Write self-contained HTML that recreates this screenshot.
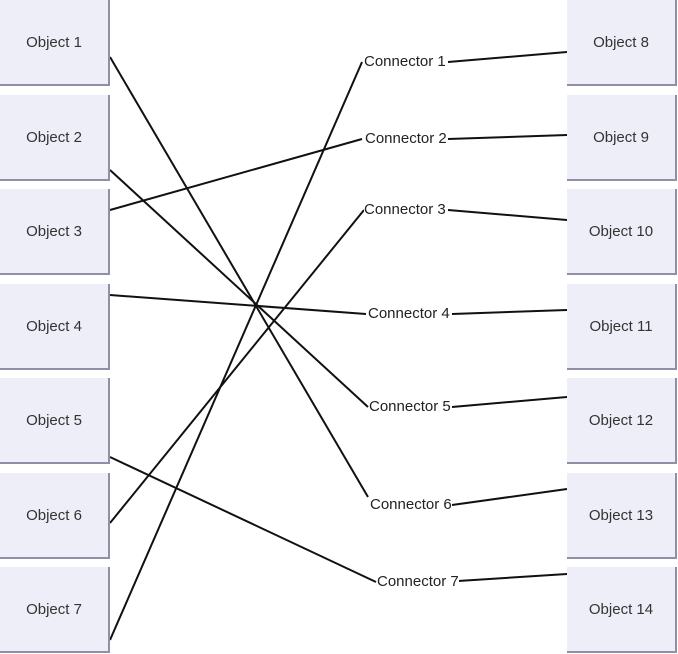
<!DOCTYPE html>
<html><head><style>
body{margin:0;width:678px;height:654px;background:#fff;position:relative;overflow:hidden;font-family:"Liberation Sans",Arial,sans-serif;}
.b{position:absolute;width:108px;height:84px;background:#eeeef8;border-right:2px solid #8f8fa8;border-bottom:2px solid #8f8fa8;display:flex;align-items:center;justify-content:center;font-size:15px;color:#333;}
.c{position:absolute;font-size:15px;color:#222;background:#fff;line-height:16px;}
svg{position:absolute;left:0;top:0}
</style></head><body>
<svg width="678" height="654"><g stroke="#111" stroke-width="2" fill="none">
<line x1="110" y1="57" x2="368" y2="497"/>
<line x1="110" y1="170" x2="368" y2="407"/>
<line x1="110" y1="210" x2="362" y2="139"/>
<line x1="110" y1="295" x2="366" y2="314"/>
<line x1="110" y1="457" x2="376" y2="582"/>
<line x1="110" y1="523" x2="364" y2="210"/>
<line x1="110" y1="640" x2="362" y2="62"/>
<line x1="448" y1="62" x2="567" y2="52"/>
<line x1="448" y1="139" x2="567" y2="135"/>
<line x1="448" y1="210" x2="567" y2="220"/>
<line x1="452" y1="314" x2="567" y2="310"/>
<line x1="452" y1="407" x2="567" y2="397"/>
<line x1="452" y1="505" x2="567" y2="489"/>
<line x1="458" y1="581" x2="567" y2="574"/>
</g></svg>
<div class="b" style="left:0px;top:0px">Object 1</div>
<div class="b" style="left:0px;top:95px">Object 2</div>
<div class="b" style="left:0px;top:189px">Object 3</div>
<div class="b" style="left:0px;top:284px">Object 4</div>
<div class="b" style="left:0px;top:378px">Object 5</div>
<div class="b" style="left:0px;top:473px">Object 6</div>
<div class="b" style="left:0px;top:567px">Object 7</div>
<div class="b" style="left:567px;top:0px">Object 8</div>
<div class="b" style="left:567px;top:95px">Object 9</div>
<div class="b" style="left:567px;top:189px">Object 10</div>
<div class="b" style="left:567px;top:284px">Object 11</div>
<div class="b" style="left:567px;top:378px">Object 12</div>
<div class="b" style="left:567px;top:473px">Object 13</div>
<div class="b" style="left:567px;top:567px">Object 14</div>
<div class="c" style="left:364px;top:54px">Connector 1</div>
<div class="c" style="left:365px;top:131px">Connector 2</div>
<div class="c" style="left:364px;top:202px">Connector 3</div>
<div class="c" style="left:368px;top:306px">Connector 4</div>
<div class="c" style="left:369px;top:399px">Connector 5</div>
<div class="c" style="left:370px;top:497px">Connector 6</div>
<div class="c" style="left:377px;top:574px">Connector 7</div>
</body></html>
